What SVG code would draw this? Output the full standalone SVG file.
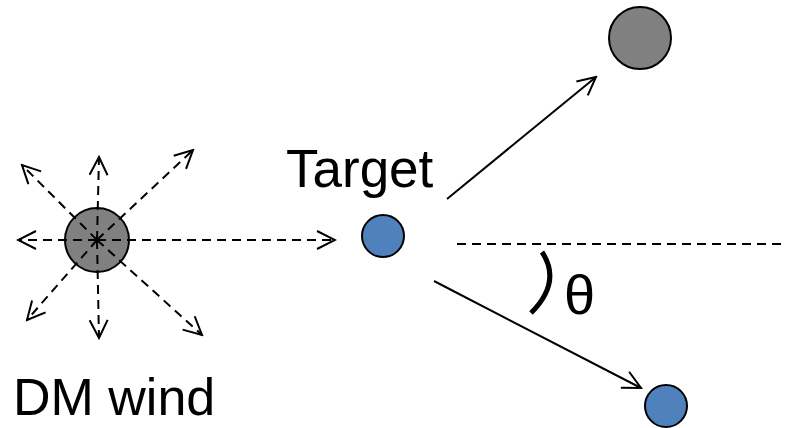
<svg xmlns="http://www.w3.org/2000/svg" width="787" height="428" viewBox="0 0 787 428">
<defs>
<style>
.lbl{font-family:"Liberation Sans",Arial,sans-serif;fill:#000}
.dash{stroke:#000;stroke-width:2;stroke-dasharray:9,6;fill:none}
.solid{stroke:#000;stroke-width:2;fill:none}
.gray{fill:#808080;stroke:#000;stroke-width:2}
.blue{fill:#4f81bd;stroke:#000;stroke-width:2}
</style>
<marker id="open" viewBox="0 0 22 22" refX="20" refY="11" markerWidth="22" markerHeight="22" markerUnits="userSpaceOnUse" orient="auto">
<path d="M2,2 L20,11 L2,20" fill="none" stroke="#000" stroke-width="2"/>
</marker>
</defs>
<rect width="787" height="428" fill="#fff"/>
<g id="dm-wind">
<circle class="gray" cx="97" cy="240" r="32"/>
<text class="lbl" x="13" y="415" font-size="52">DM wind</text>
</g>
<g id="target">
<circle class="blue" cx="383" cy="236" r="21"/>
<text class="lbl" x="286" y="187" font-size="53">Target</text>
</g>
<g id="scattered-dm">
<circle class="gray" cx="640" cy="38" r="31"/>
</g>
<g id="recoil-target">
<circle class="blue" cx="666" cy="406" r="21"/>
</g>
<g id="connectors">
<line class="dash" x1="97" y1="240" x2="335" y2="240" marker-end="url(#open)"/>
<line class="dash" x1="97" y1="240" x2="18" y2="240" marker-end="url(#open)"/>
<line class="dash" x1="97" y1="240" x2="99" y2="157" marker-end="url(#open)"/>
<line class="dash" x1="97" y1="240" x2="99" y2="338" marker-end="url(#open)"/>
<line class="dash" x1="97" y1="240" x2="22" y2="165" marker-end="url(#open)"/>
<line class="dash" x1="97" y1="240" x2="193" y2="150" marker-end="url(#open)"/>
<line class="dash" x1="97" y1="240" x2="27" y2="320" marker-end="url(#open)"/>
<line class="dash" x1="97" y1="240" x2="202" y2="335" marker-end="url(#open)"/>
<line class="solid" x1="447" y1="199" x2="596" y2="77" marker-end="url(#open)"/>
<line class="solid" x1="434" y1="281" x2="641" y2="388" marker-end="url(#open)"/>
<line class="dash" x1="457" y1="244" x2="790" y2="244"/>
</g>
<g id="angle">
<path d="M542,252 Q562,282 531,313" fill="none" stroke="#000" stroke-width="5"/>
<text class="lbl" x="564" y="314" font-size="56">θ</text>
</g>
</svg>
